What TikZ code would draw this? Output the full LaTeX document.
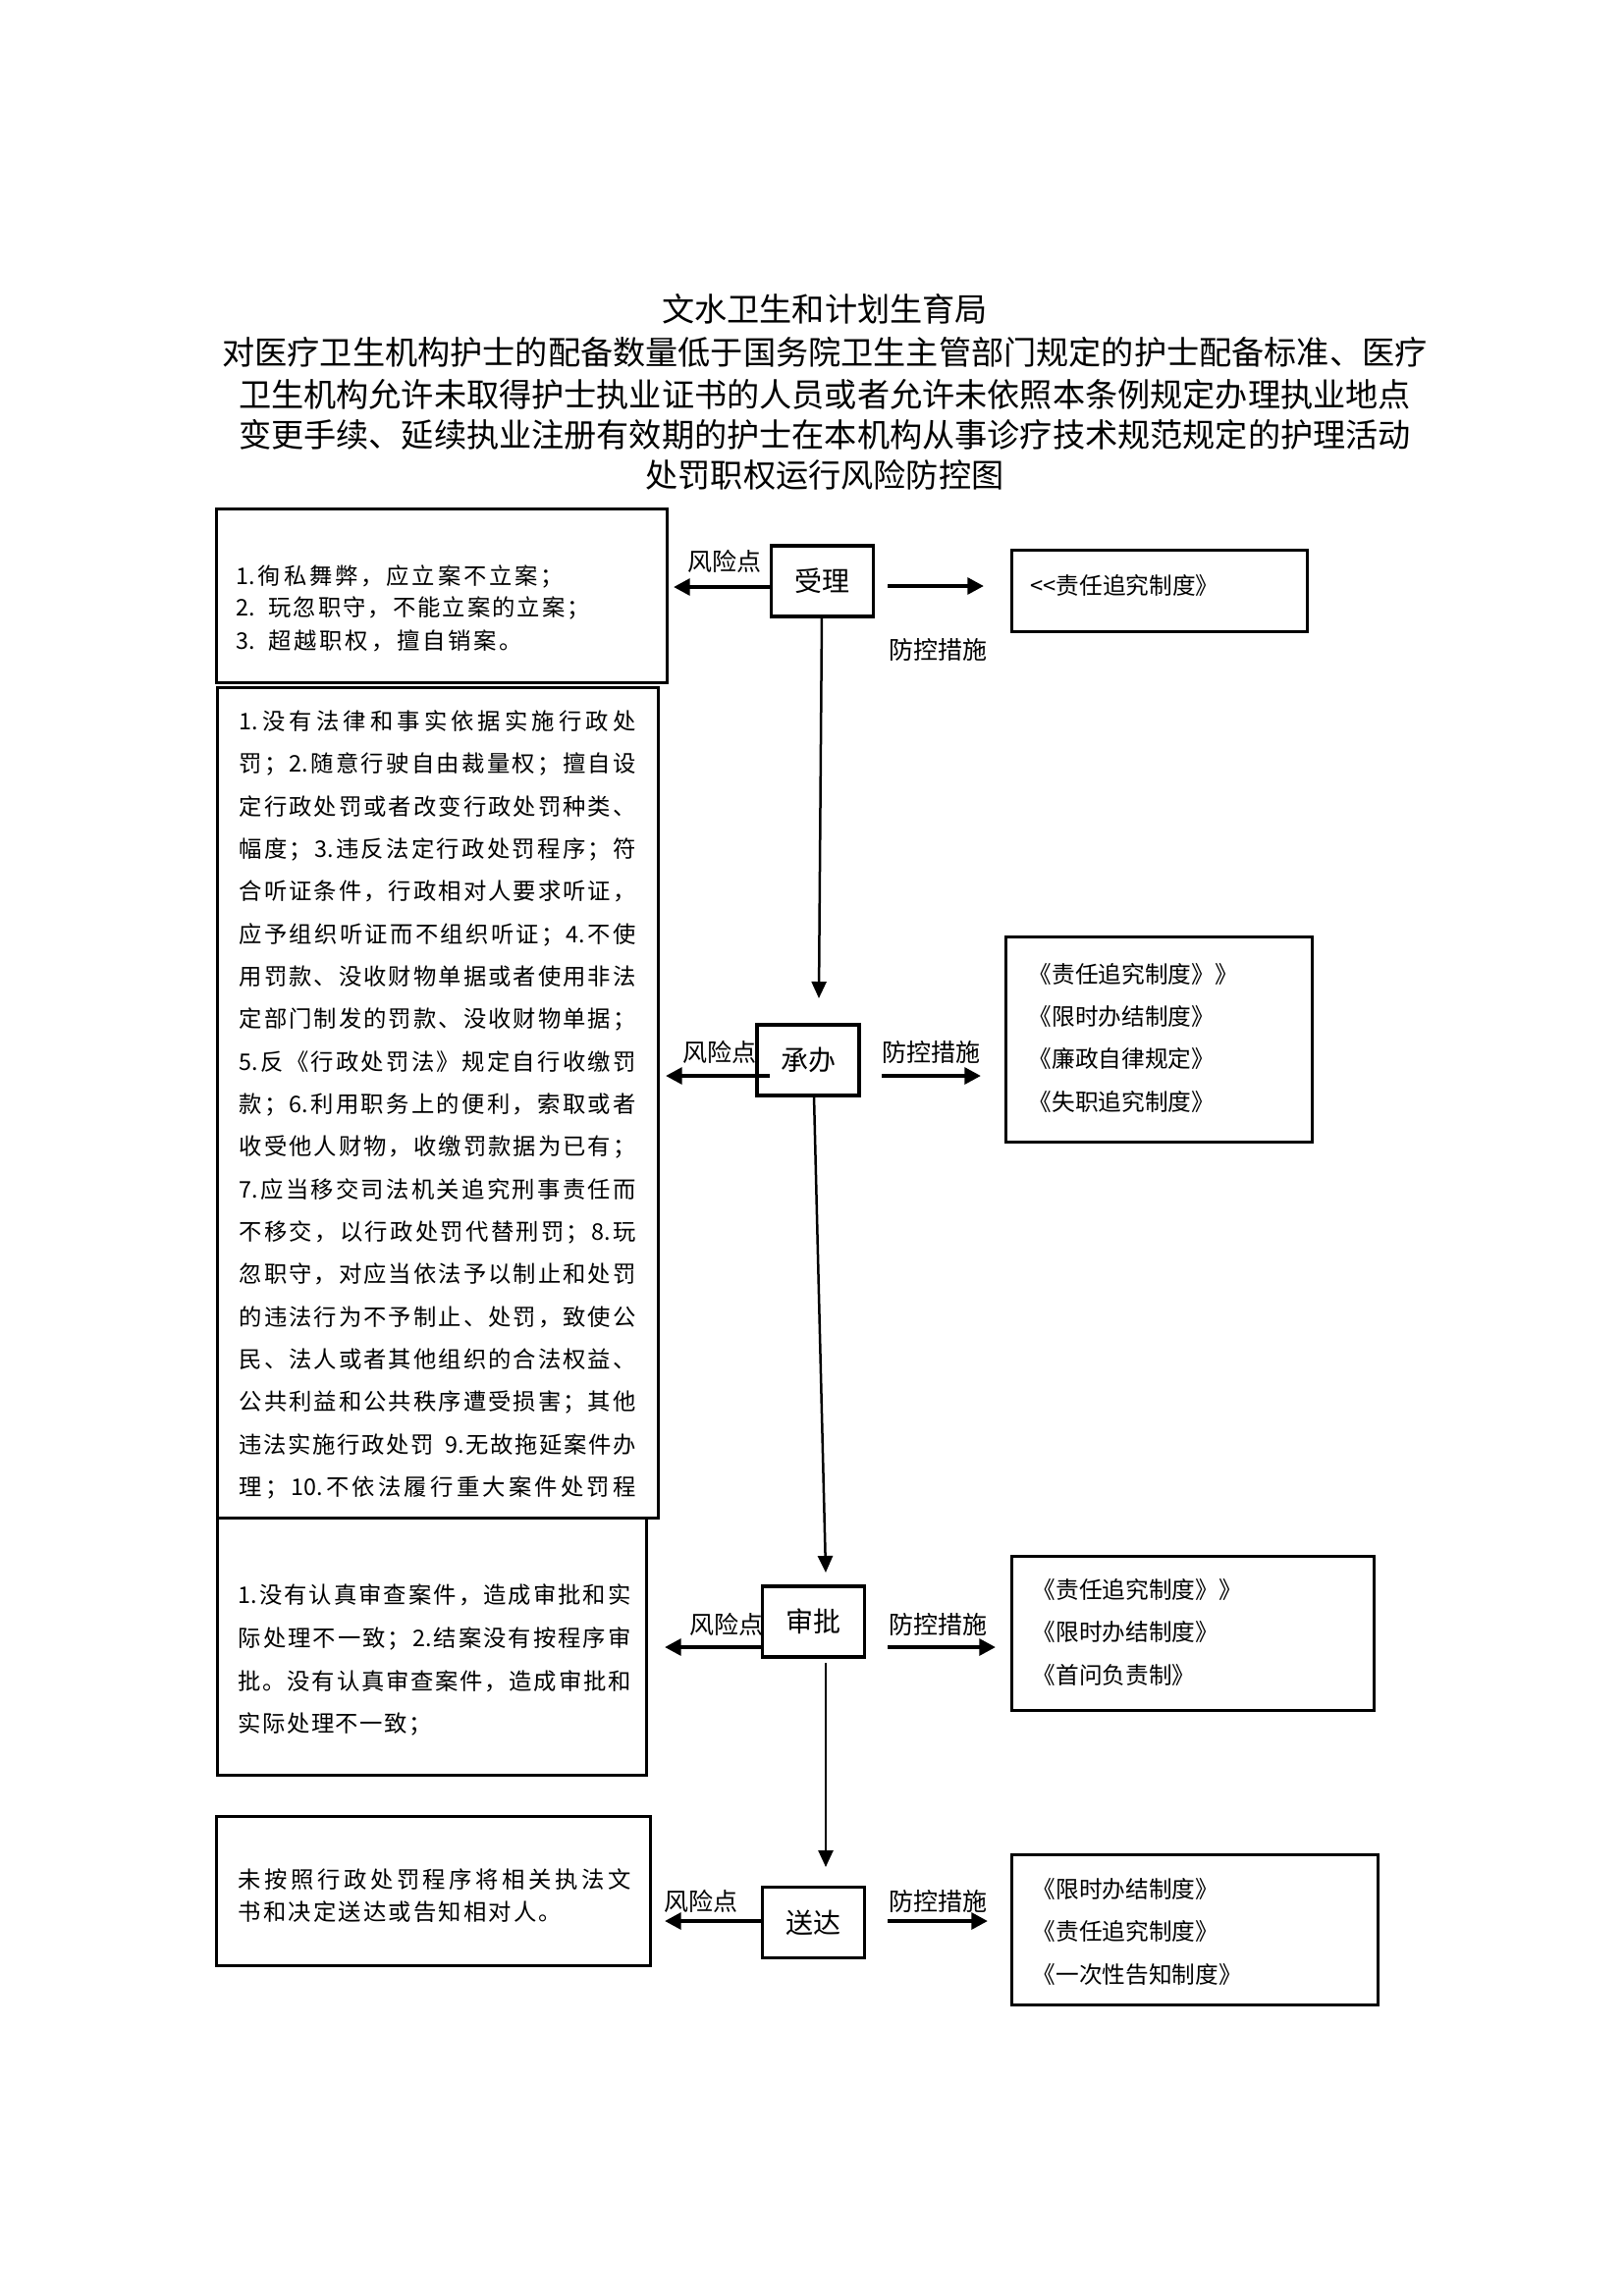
\documentclass[tikz,border=0pt]{standalone}
\usepackage{fontspec}
\setmainfont{Noto Sans CJK SC}
\usetikzlibrary{arrows.meta,fit}
\makeatletter
\def\sl@end{\sl@end}
\def\sl@first#1{#1\sl@loop}
\def\sl@loop#1{\ifx\sl@end#1\else\sl@sep#1\expandafter\sl@loop\fi}
\newcommand\spreadline[2]{\hbox to #1{\def\sl@sep{\hfill}\sl@first#2\sl@end}}
\newcommand\gapline[2]{\hbox{\def\sl@sep{\hspace*{#1}}\sl@first#2\sl@end}}
\makeatother
\begin{document}
\begin{tikzpicture}[x=0.3pt,y=-0.3pt,
  ttl/.style={anchor=base,inner sep=0pt,font=\fontsize{9.95pt}{12pt}\selectfont},
  lbox/.style={draw,line width=0.9pt,inner sep=0pt},
  flowbox/.style={draw,line width=1pt,inner sep=0pt,minimum width=31.2pt,minimum height=21.6pt,font=\fontsize{8.4pt}{10pt}\selectfont},
  btxt/.style={anchor=base west,inner sep=0pt,font=\fontsize{7pt}{8pt}\selectfont},
  rtxt/.style={anchor=base west,inner sep=0pt,font=\fontsize{7.1pt}{8pt}\selectfont},
  lbl/.style={anchor=base,inner sep=0pt,font=\fontsize{7.5pt}{9pt}\selectfont},
  harrow/.style={line width=1.2pt,-{Triangle[length=5pt,width=5pt]}},
  varrow/.style={line width=0.75pt,-{Triangle[length=5.1pt,width=4.5pt]}}]
\useasboundingbox (0,0) rectangle (1654,2339);
\fill[white] (0,0) rectangle (1654,2339);

% title
\node[ttl] (t1) at (840,327.5) {文水卫生和计划生育局};
\node[ttl] (t2) at (840,371.5) {对医疗卫生机构护士的配备数量低于国务院卫生主管部门规定的护士配备标准、医疗};
\node[ttl] (t3) at (840,414.5) {卫生机构允许未取得护士执业证书的人员或者允许未依照本条例规定办理执业地点};
\node[ttl] (t4) at (840,455.5) {变更手续、延续执业注册有效期的护士在本机构从事诊疗技术规范规定的护理活动};
\node[ttl] (t5) at (840,496.5) {处罚职权运行风险防控图};

% boxes
\node[lbox,fit={(220,518) (679,695)}] (b1) {};
\node[lbox,fit={(221,700) (670,1546)}] (b2) {};
\node[lbox,fit={(221,1546) (658,1808)}] (b3) {};
\node[lbox,fit={(220,1850) (662,2002)}] (b4) {};
\node[lbox,fit={(1030,560) (1331,643)}] (r1) {};
\node[lbox,fit={(1024,954) (1336,1163)}] (r2) {};
\node[lbox,fit={(1030,1585) (1399,1742)}] (r3) {};
\node[lbox,fit={(1030,1889) (1403,2042)}] (r4) {};

% flow steps
\node[flowbox] (shouli) at (837.5,592) {受理};
\node[flowbox] (chengban) at (823,1080) {承办};
\node[flowbox] (shenpi) at (828.5,1652) {审批};
\node[flowbox] (songda) at (828.5,1958.5) {送达};

% labels
\node[lbl] (fx1) at (738,581) {风险点};
\node[lbl] (fx2) at (733,1081) {风险点};
\node[lbl] (fx3) at (740,1664) {风险点};
\node[lbl] (fx4) at (714,1946) {风险点};
\node[lbl] (fk1) at (955,671) {防控措施};
\node[lbl] (fk2) at (948,1081) {防控措施};
\node[lbl] (fk3) at (955,1664) {防控措施};
\node[lbl] (fk4) at (955,1946) {防控措施};

% arrow end points
\coordinate (l1s) at (786,598);  \coordinate (l1e) at (686,598);
\coordinate (l2s) at (784,1096); \coordinate (l2e) at (678,1096);
\coordinate (l3s) at (776,1678); \coordinate (l3e) at (677,1678);
\coordinate (l4s) at (776,1957); \coordinate (l4e) at (677,1957);
\coordinate (m1s) at (904,597);  \coordinate (m1e) at (1002,597);
\coordinate (m2s) at (898,1096); \coordinate (m2e) at (999,1096);
\coordinate (m3s) at (904,1678); \coordinate (m3e) at (1014,1678);
\coordinate (m4s) at (904,1957); \coordinate (m4e) at (1006,1957);
\coordinate (v1s) at (837,628);  \coordinate (v1e) at (834,1017);
\coordinate (v2s) at (829,1116); \coordinate (v2e) at (841,1602);
\coordinate (v3s) at (841,1694); \coordinate (v3e) at (841,1902);

\draw[harrow] (l1s) -- (l1e);
\draw[harrow] (l2s) -- (l2e);
\draw[harrow] (l3s) -- (l3e);
\draw[harrow] (l4s) -- (l4e);
\draw[harrow] (m1s) -- (m1e);
\draw[harrow] (m2s) -- (m2e);
\draw[harrow] (m3s) -- (m3e);
\draw[harrow] (m4s) -- (m4e);
\draw[varrow] (v1s) -- (v1e);
\draw[varrow] (v2s) -- (v2e);
\draw[varrow] (v3s) -- (v3e);

% box 1 text
\node[btxt] (b1l1) at (240,595) {\gapline{0.85pt}{{1.}徇私舞弊，应立案不立案；}};
\node[btxt] (b1l2) at (240,627) {2.\hspace{4pt}\gapline{0.6pt}{玩忽职守，不能立案的立案；}};
\node[btxt] (b1l3) at (240,661) {3.\hspace{4pt}\gapline{0.85pt}{超越职权，擅自销案。}};

% box 2 text
\node[btxt] (b2l1) at (243,743.4) {\spreadline{121.2pt}{{1.}没有法律和事实依据实施行政处}};
\node[btxt] (b2l2) at (243,786.7) {\spreadline{121.2pt}{罚；{2.}随意行驶自由裁量权；擅自设}};
\node[btxt] (b2l3) at (243,830.1) {\spreadline{121.2pt}{定行政处罚或者改变行政处罚种类、}};
\node[btxt] (b2l4) at (243,873.4) {\spreadline{121.2pt}{幅度；{3.}违反法定行政处罚程序；符}};
\node[btxt] (b2l5) at (243,916.7) {\spreadline{121.2pt}{合听证条件，行政相对人要求听证，}};
\node[btxt] (b2l6) at (243,960.1) {\spreadline{121.2pt}{应予组织听证而不组织听证；{4.}不使}};
\node[btxt] (b2l7) at (243,1003.4) {\spreadline{121.2pt}{用罚款、没收财物单据或者使用非法}};
\node[btxt] (b2l8) at (243,1046.7) {\spreadline{121.2pt}{定部门制发的罚款、没收财物单据；}};
\node[btxt] (b2l9) at (243,1090.0) {\spreadline{121.2pt}{{5.}反《行政处罚法》规定自行收缴罚}};
\node[btxt] (b2l10) at (243,1133.4) {\spreadline{121.2pt}{款；{6.}利用职务上的便利，索取或者}};
\node[btxt] (b2l11) at (243,1176.7) {\spreadline{121.2pt}{收受他人财物，收缴罚款据为已有；}};
\node[btxt] (b2l12) at (243,1220.0) {\spreadline{121.2pt}{{7.}应当移交司法机关追究刑事责任而}};
\node[btxt] (b2l13) at (243,1263.4) {\spreadline{121.2pt}{不移交，以行政处罚代替刑罚；{8.}玩}};
\node[btxt] (b2l14) at (243,1306.7) {\spreadline{121.2pt}{忽职守，对应当依法予以制止和处罚}};
\node[btxt] (b2l15) at (243,1350.0) {\spreadline{121.2pt}{的违法行为不予制止、处罚，致使公}};
\node[btxt] (b2l16) at (243,1393.4) {\spreadline{121.2pt}{民、法人或者其他组织的合法权益、}};
\node[btxt] (b2l17) at (243,1436.7) {\spreadline{121.2pt}{公共利益和公共秩序遭受损害；其他}};
\node[btxt] (b2l18) at (243,1480.0) {\spreadline{121.2pt}{违法实施行政处罚{\hspace*{3pt}9.}无故拖延案件办}};
\node[btxt] (b2l19) at (243,1523.4) {\spreadline{121.2pt}{理；{10.}不依法履行重大案件处罚程}};

% box 3 text
\node[btxt] (b3l1) at (242,1633) {\spreadline{120pt}{{1.}没有认真审查案件，造成审批和实}};
\node[btxt] (b3l2) at (242,1677) {\spreadline{120pt}{际处理不一致；{2.}结案没有按程序审}};
\node[btxt] (b3l3) at (242,1721) {\spreadline{120pt}{批。没有认真审查案件，造成审批和}};
\node[btxt] (b3l4) at (242,1764) {\gapline{0.45pt}{实际处理不一致；}};

% box 4 text
\node[btxt] (b4l1) at (242,1923) {\spreadline{120pt}{未按照行政处罚程序将相关执法文}};
\node[btxt] (b4l2) at (242,1956) {\gapline{0.65pt}{书和决定送达或告知相对人。}};

% right boxes text
\node[rtxt] (r1l1) at (1049,605) {<\kern0pt<责任追究制度》};
\node[rtxt] (r2l1) at (1047,1001) {《责任追究制度》》};
\node[rtxt] (r2l2) at (1047,1044) {《限时办结制度》};
\node[rtxt] (r2l3) at (1047,1087) {《廉政自律规定》};
\node[rtxt] (r2l4) at (1047,1131) {《失职追究制度》};
\node[rtxt] (r3l1) at (1051,1628) {《责任追究制度》》};
\node[rtxt] (r3l2) at (1051,1671) {《限时办结制度》};
\node[rtxt] (r3l3) at (1051,1715) {《首问负责制》};
\node[rtxt] (r4l1) at (1051,1933) {《限时办结制度》};
\node[rtxt] (r4l2) at (1051,1976) {《责任追究制度》};
\node[rtxt] (r4l3) at (1051,2020) {《一次性告知制度》};
\end{tikzpicture}
\end{document}
